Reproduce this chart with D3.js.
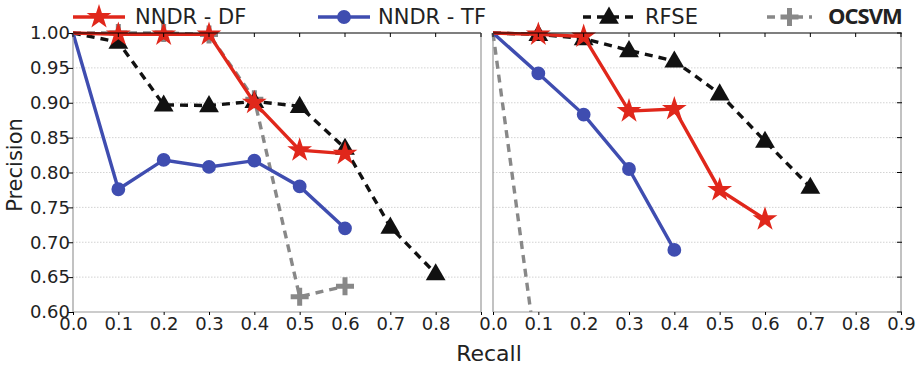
<!DOCTYPE html>
<html>
<head>
<meta charset="utf-8">
<script src="https://cdn.jsdelivr.net/npm/d3@7"></script>
<style>
  body { margin: 0; background: #fff; }
  text { font-family: "DejaVu Sans", sans-serif; fill: #222; }
</style>
</head>
<body>
<div id="chart"></div>
<script>
const WIDTH = 920, HEIGHT = 366;
const PANELS = [{ left: 73, right: 481 }, { left: 493, right: 901 }];
const TOP = 33, BOTTOM = 312;

const recall = [0, 0.1, 0.2, 0.3, 0.4, 0.5, 0.6, 0.7, 0.8];
const xTicks = [0, 0.1, 0.2, 0.3, 0.4, 0.5, 0.6, 0.7, 0.8, 0.9];
const yTicks = [0.60, 0.65, 0.70, 0.75, 0.80, 0.85, 0.90, 0.95, 1.00];

// left panel
const leftDF = [1.0, 0.998, 0.998, 0.998, 0.900, 0.832, 0.827];
const leftTF = [1.0, 0.776, 0.818, 0.808, 0.817, 0.780, 0.720];
const leftRFSE = [1.0, 0.987, 0.897, 0.896, 0.902, 0.895, 0.835, 0.722, 0.655];
const leftOCSVM = [1.0, 1.0, 1.0, 0.998, 0.905, 0.622, 0.637];

// right panel
const rightDF = [1.0, 0.998, 0.995, 0.888, 0.891, 0.775, 0.733];
const rightTF = [1.0, 0.942, 0.883, 0.805, 0.689];
const rightRFSE = [1.0, 0.998, 0.992, 0.975, 0.960, 0.913, 0.845, 0.779];
const rightOCSVM = [1.0, 0.52];

const series = [
    { name: "NNDR - DF", color: "#e0271b", dash: null, marker: "star" },
    { name: "NNDR - TF", color: "#3f4db0", dash: null, marker: "circle" },
    { name: "RFSE", color: "#111", dash: "8,6", marker: "triangle" },
    { name: "OCSVM", color: "#888", dash: "8,6", marker: "plus" }
];
const panelData = [
    [leftDF, leftTF, leftRFSE, leftOCSVM],
    [rightDF, rightTF, rightRFSE, rightOCSVM]
];
// draw order: OCSVM underneath, then RFSE, TF, DF
const drawOrder = [3, 2, 1, 0];

const svg = d3.select("#chart").append("svg")
    .attr("width", WIDTH)
    .attr("height", HEIGHT);

const y = d3.scaleLinear().domain([0.6, 1.0]).range([BOTTOM, TOP]);

const symbolFor = (m) => {
    if (m === "star") return d3.symbol(d3.symbolStar, 190);
    if (m === "circle") return d3.symbol(d3.symbolCircle, 150);
    return d3.symbol(d3.symbolTriangle, 170);
};

const drawMarker = (g, m, color, cx, cy) => {
    if (m === "plus") {
        g.append("path")
            .attr("d", `M${cx - 9},${cy}H${cx + 9}M${cx},${cy - 9}V${cy + 9}`)
            .attr("stroke", color)
            .attr("stroke-width", 5)
            .attr("fill", "none");
        return;
    }
    g.append("path")
        .attr("d", symbolFor(m)())
        .attr("transform", `translate(${cx},${cy + (m === "triangle" ? 1 : 0)})`)
        .attr("fill", color);
};

PANELS.forEach((p, pi) => {
    const x = d3.scaleLinear().domain([0, 0.9]).range([p.left, p.right]);

    // grid
    svg.append("g").selectAll("line")
        .data(yTicks.slice(1, -1))
        .join("line")
        .attr("x1", p.left).attr("x2", p.right)
        .attr("y1", d => y(d)).attr("y2", d => y(d))
        .attr("stroke", "#c8c8c8")
        .attr("stroke-width", 0.8)
        .attr("stroke-dasharray", "1.5,1.5");

    const clipId = `clip${pi}`;
    svg.append("clipPath").attr("id", clipId)
        .append("rect")
        .attr("x", p.left - 15).attr("y", TOP - 15)
        .attr("width", p.right - p.left + 30)
        .attr("height", BOTTOM - TOP + 15);

    const plot = svg.append("g").attr("clip-path", `url(#${clipId})`);

    drawOrder.forEach(si => {
        const s = series[si];
        const vals = panelData[pi][si];
        const pts = vals.map((v, i) => [recall[i], v]);
        plot.append("path")
            .datum(pts)
            .attr("d", d3.line().x(d => x(d[0])).y(d => y(d[1])))
            .attr("fill", "none")
            .attr("stroke", s.color)
            .attr("stroke-width", 3.4)
            .attr("stroke-dasharray", s.dash);
        pts.forEach((d, i) => {
            if (i === 0) return;
            if (d[1] < 0.6) return;
            drawMarker(plot, s.marker, s.color, x(d[0]), y(d[1]));
        });
    });

    // spines
    svg.append("line")
        .attr("x1", p.left).attr("x2", p.right).attr("y1", TOP).attr("y2", TOP)
        .attr("stroke", "#000").attr("stroke-width", 1.2);
    svg.append("line")
        .attr("x1", p.left).attr("x2", p.right).attr("y1", BOTTOM).attr("y2", BOTTOM)
        .attr("stroke", "#999").attr("stroke-width", 1.2);
    svg.append("line")
        .attr("x1", p.left).attr("x2", p.left).attr("y1", TOP).attr("y2", BOTTOM)
        .attr("stroke", "#999").attr("stroke-width", 1.2);
    svg.append("line")
        .attr("x1", p.right).attr("x2", p.right).attr("y1", TOP).attr("y2", BOTTOM)
        .attr("stroke", "#999").attr("stroke-width", 1.2);

    // top ticks pointing inward
    svg.append("g").selectAll("line")
        .data(xTicks)
        .join("line")
        .attr("x1", d => x(d)).attr("x2", d => x(d))
        .attr("y1", TOP).attr("y2", TOP + 4)
        .attr("stroke", "#000").attr("stroke-width", 1);

    // bottom axis (left panel hides the 0.9 label)
    const xAxis = d3.axisBottom(x)
        .tickValues(xTicks)
        .tickFormat(d => (pi === 0 && d > 0.85) ? "" : d3.format(".1f")(d))
        .tickSize(3);
    const gx = svg.append("g")
        .attr("transform", `translate(0, ${BOTTOM})`)
        .call(xAxis);
    gx.select(".domain").remove();
    gx.selectAll(".tick line").attr("stroke", "#000");
    gx.selectAll(".tick text")
        .attr("y", 5)
        .style("font-size", "18px")
        .style("font-family", "DejaVu Sans, sans-serif")
        .attr("fill", "#222");

    // y ticks
    if (pi === 0) {
        const yAxis = d3.axisLeft(y)
            .tickValues(yTicks)
            .tickFormat(d3.format(".2f"))
            .tickSize(5);
        const gy = svg.append("g")
            .attr("transform", `translate(${p.left}, 0)`)
            .call(yAxis);
        gy.select(".domain").remove();
        gy.selectAll(".tick line").attr("stroke", "#000");
        gy.selectAll(".tick text")
            .attr("x", -3)
            .style("font-size", "18px")
            .style("font-family", "DejaVu Sans, sans-serif")
            .attr("fill", "#222");
    } else {
        svg.append("g").selectAll("line")
            .data(yTicks)
            .join("line")
            .attr("x1", p.right - 4).attr("x2", p.right + 1)
            .attr("y1", d => y(d)).attr("y2", d => y(d))
            .attr("stroke", "#000").attr("stroke-width", 1);
    }
});

// axis labels
svg.append("text")
    .attr("x", 489).attr("y", 361)
    .attr("text-anchor", "middle")
    .style("font-size", "22px")
    .text("Recall");

svg.append("text")
    .attr("transform", "translate(22, 165) rotate(-90)")
    .attr("text-anchor", "middle")
    .style("font-size", "21px")
    .text("Precision");

// legend
const legendItems = [
    { s: 0, x0: 73, x1: 125, tx: 135 },
    { s: 1, x0: 318, x1: 370, tx: 378 },
    { s: 2, x0: 583, x1: 635, tx: 645 },
    { s: 3, x0: 767, x1: 812, tx: 828 }
];
const legend = svg.append("g");
legendItems.forEach(it => {
    const s = series[it.s];
    const ly = 17;
    legend.append("line")
        .attr("x1", it.x0).attr("x2", it.x1).attr("y1", ly).attr("y2", ly)
        .attr("stroke", s.color)
        .attr("stroke-width", 3.4)
        .attr("stroke-dasharray", s.dash ? "8,6" : null);
    drawMarker(legend, s.marker, s.color, (it.x0 + it.x1) / 2, ly);
    const t = legend.append("text")
        .attr("x", it.tx).attr("y", ly + 7)
        .style("font-size", "21px")
        .text(s.name);
    if (s.name === "OCSVM") {
        t.style("font-family", "'Open Sans', sans-serif")
            .style("font-weight", "700")
            .style("letter-spacing", "-1px")
            .style("font-size", "22px")
            .attr("fill", "#111");
    }
});
</script>
</body>
</html>
